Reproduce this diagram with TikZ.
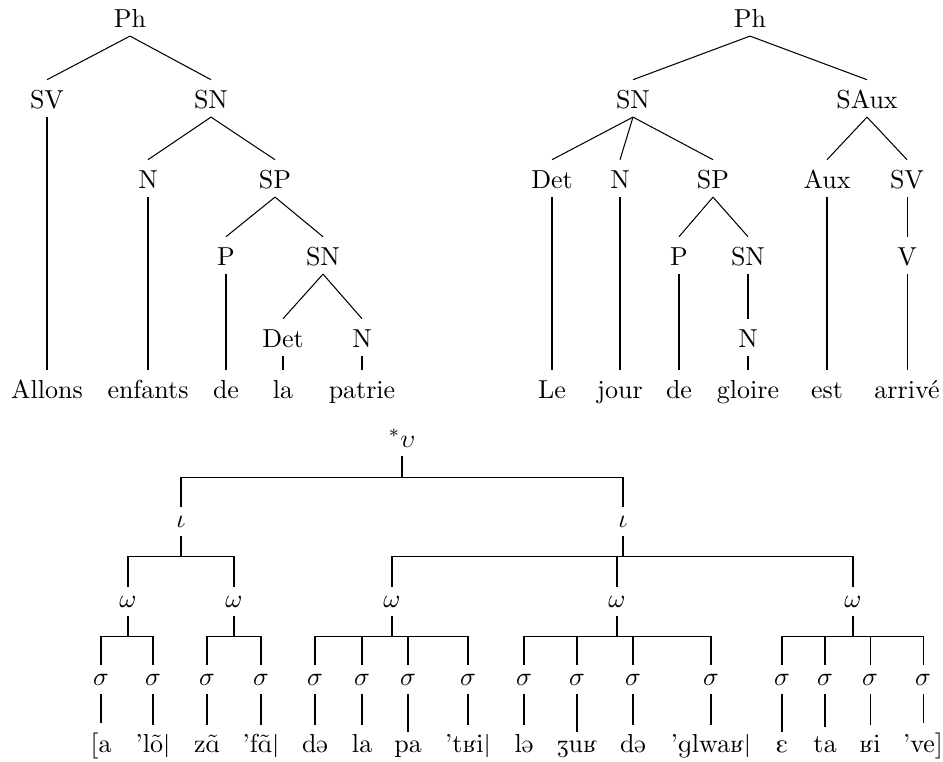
\documentclass[tikz,border=0pt]{standalone}
\usepackage{tipa}
\usepackage{tikz}

\begin{document}
\begin{tikzpicture}[x=0.385pt, y=-0.385pt]
\tikzstyle{cat} = [inner sep=3.3pt, text height=7.4pt, text depth=0pt, anchor=base]
\tikzstyle{pros} = [inner sep=3.3pt, anchor=base]
\useasboundingbox (0,0) rectangle (943,761);

% Allons enfants de la patrie
\node (Ph1)  [cat] at (130,27) {Ph};
\node (SV1)  [cat] at (47,108) {SV};
\node (SN1)  [cat] at (211,108) {SN};
\node (N1)   [cat] at (148,188) {N};
\node (SP1)  [cat] at (275,188) {SP};
\node (P1)   [cat] at (226,265) {P};
\node (SN2)  [cat] at (323,265) {SN};
\node (Det1) [cat] at (283,347) {Det};
\node (N2)   [cat] at (362,347) {N};
\node (allons)  [cat] at (47,398) {Allons};
\node (enfants) [cat] at (148,398) {enfants};
\node (de1)     [cat] at (226,398) {de};
\node (la)      [cat] at (283,398) {la};
\node (patrie)  [cat] at (362,398) {patrie};

\draw (Ph1.south) -- (SV1.north);
\draw (Ph1.south) -- (SN1.north);
\draw (SN1.south) -- (N1.north);
\draw (SN1.south) -- (SP1.north);
\draw (SP1.south) -- (P1.north);
\draw (SP1.south) -- (SN2.north);
\draw (SN2.south) -- (Det1.north);
\draw (SN2.south) -- (N2.north);
\draw (SV1.south) -- (allons.north);
\draw (N1.south) -- (enfants.north);
\draw (P1.south) -- (de1.north);
\draw (Det1.south) -- (la.north);
\draw (N2.south) -- (patrie.north);

% Le jour de gloire est arrive
\node (Ph2)  [cat] at (750,27) {Ph};
\node (SN3)  [cat] at (633,108) {SN};
\node (SAux) [cat] at (867,108) {SAux};
\node (Det2) [cat] at (552,188) {Det};
\node (N3)   [cat] at (620,188) {N};
\node (SP2)  [cat] at (713,188) {SP};
\node (Aux)  [cat] at (827,188) {Aux};
\node (SV2)  [cat] at (907,188) {SV};
\node (P2)   [cat] at (679,265) {P};
\node (SN4)  [cat] at (748,265) {SN};
\node (V)    [cat] at (907,265) {V};
\node (N4)   [cat] at (748,347) {N};
\node (le)     [cat] at (552,398) {Le};
\node (jour)   [cat] at (620,398) {jour};
\node (de2)    [cat] at (679,398) {de};
\node (gloire) [cat] at (748,398) {gloire};
\node (est)    [cat] at (827,398) {est};
\node (arrive) [cat] at (907,398) {arrivé};

\draw (Ph2.south) -- (SN3.north);
\draw (Ph2.south) -- (SAux.north);
\draw (SN3.south) -- (Det2.north);
\draw (SN3.south) -- (N3.north);
\draw (SN3.south) -- (SP2.north);
\draw (SAux.south) -- (Aux.north);
\draw (SAux.south) -- (SV2.north);
\draw (SP2.south) -- (P2.north);
\draw (SP2.south) -- (SN4.north);
\draw (SV2.south) -- (V.north);
\draw (SN4.south) -- (N4.north);
\draw (Det2.south) -- (le.north);
\draw (N3.south) -- (jour.north);
\draw (P2.south) -- (de2.north);
\draw (N4.south) -- (gloire.north);
\draw (Aux.south) -- (est.north);
\draw (V.south) -- (arrive.north);

% prosodic tree
\node (u)  [pros] at (402,447) {$^*\upsilon$};
\node (i1) [pros] at (181,527) {$\iota$};
\node (i2) [pros] at (623,527) {$\iota$};
\node (w1) [pros] at (128,607) {$\omega$};
\node (w2) [pros] at (234,607) {$\omega$};
\node (w3) [pros] at (392,607) {$\omega$};
\node (w4) [pros] at (617,607) {$\omega$};
\node (w5) [pros] at (853,607) {$\omega$};
\node (s1)  [pros] at (101,685) {$\sigma$};
\node (s2)  [pros] at (153,685) {$\sigma$};
\node (s3)  [pros] at (207,685) {$\sigma$};
\node (s4)  [pros] at (261,685) {$\sigma$};
\node (s5)  [pros] at (315,685) {$\sigma$};
\node (s6)  [pros] at (362,685) {$\sigma$};
\node (s7)  [pros] at (408,685) {$\sigma$};
\node (s8)  [pros] at (468,685) {$\sigma$};
\node (s9)  [pros] at (524,685) {$\sigma$};
\node (s10) [pros] at (577,685) {$\sigma$};
\node (s11) [pros] at (633,685) {$\sigma$};
\node (s12) [pros] at (711,685) {$\sigma$};
\node (s13) [pros] at (782,685) {$\sigma$};
\node (s14) [pros] at (825,685) {$\sigma$};
\node (s15) [pros] at (870,685) {$\sigma$};
\node (s16) [pros] at (923,685) {$\sigma$};
\node (t1)  [pros] at (101,752) {\textipa{[a}};
\node (t2)  [pros] at (153,752) {\textipa{'l\~o|}};
\node (t3)  [pros] at (207,752) {\textipa{z\~A}};
\node (t4)  [pros] at (261,752) {\textipa{'f\~A|}};
\node (t5)  [pros] at (315,752) {\textipa{d@}};
\node (t6)  [pros] at (362,752) {\textipa{la}};
\node (t7)  [pros] at (408,752) {\textipa{pa}};
\node (t8)  [pros] at (468,752) {\textipa{'tKi|}};
\node (t9)  [pros] at (524,752) {\textipa{l@}};
\node (t10) [pros] at (577,752) {\textipa{ZuK}};
\node (t11) [pros] at (633,752) {\textipa{d@}};
\node (t12) [pros] at (711,752) {\textipa{'glwaK|}};
\node (t13) [pros] at (782,752) {\textipa{E}};
\node (t14) [pros] at (825,752) {\textipa{ta}};
\node (t15) [pros] at (870,752) {\textipa{Ki}};
\node (t16) [pros] at (923,752) {\textipa{'ve]}};

\draw (u.south) -- ++(0,21) -| (i1.north);
\draw (u.south) -- ++(0,21) -| (i2.north);
\draw (i1.south) -- ++(0,20) -| (w1.north);
\draw (i1.south) -- ++(0,20) -| (w2.north);
\draw (i2.south) -- ++(0,20) -| (w3.north);
\draw (i2.south) -- ++(0,20) -| (w4.north);
\draw (i2.south) -- ++(0,20) -| (w5.north);
\draw (w1.south) -- ++(0,20) -| (s1.north);
\draw (w1.south) -- ++(0,20) -| (s2.north);
\draw (w2.south) -- ++(0,20) -| (s3.north);
\draw (w2.south) -- ++(0,20) -| (s4.north);
\draw (w3.south) -- ++(0,20) -| (s5.north);
\draw (w3.south) -- ++(0,20) -| (s6.north);
\draw (w3.south) -- ++(0,20) -| (s7.north);
\draw (w3.south) -- ++(0,20) -| (s8.north);
\draw (w4.south) -- ++(0,20) -| (s9.north);
\draw (w4.south) -- ++(0,20) -| (s10.north);
\draw (w4.south) -- ++(0,20) -| (s11.north);
\draw (w4.south) -- ++(0,20) -| (s12.north);
\draw (w5.south) -- ++(0,20) -| (s13.north);
\draw (w5.south) -- ++(0,20) -| (s14.north);
\draw (w5.south) -- ++(0,20) -| (s15.north);
\draw (w5.south) -- ++(0,20) -| (s16.north);
\draw (s1.south) -- (t1.north);
\draw (s2.south) -- (t2.north);
\draw (s3.south) -- (t3.north);
\draw (s4.south) -- (t4.north);
\draw (s5.south) -- (t5.north);
\draw (s6.south) -- (t6.north);
\draw (s7.south) -- (t7.north);
\draw (s8.south) -- (t8.north);
\draw (s9.south) -- (t9.north);
\draw (s10.south) -- (t10.north);
\draw (s11.south) -- (t11.north);
\draw (s12.south) -- (t12.north);
\draw (s13.south) -- (t13.north);
\draw (s14.south) -- (t14.north);
\draw (s15.south) -- (t15.north);
\draw (s16.south) -- (t16.north);

\end{tikzpicture}
\end{document}
